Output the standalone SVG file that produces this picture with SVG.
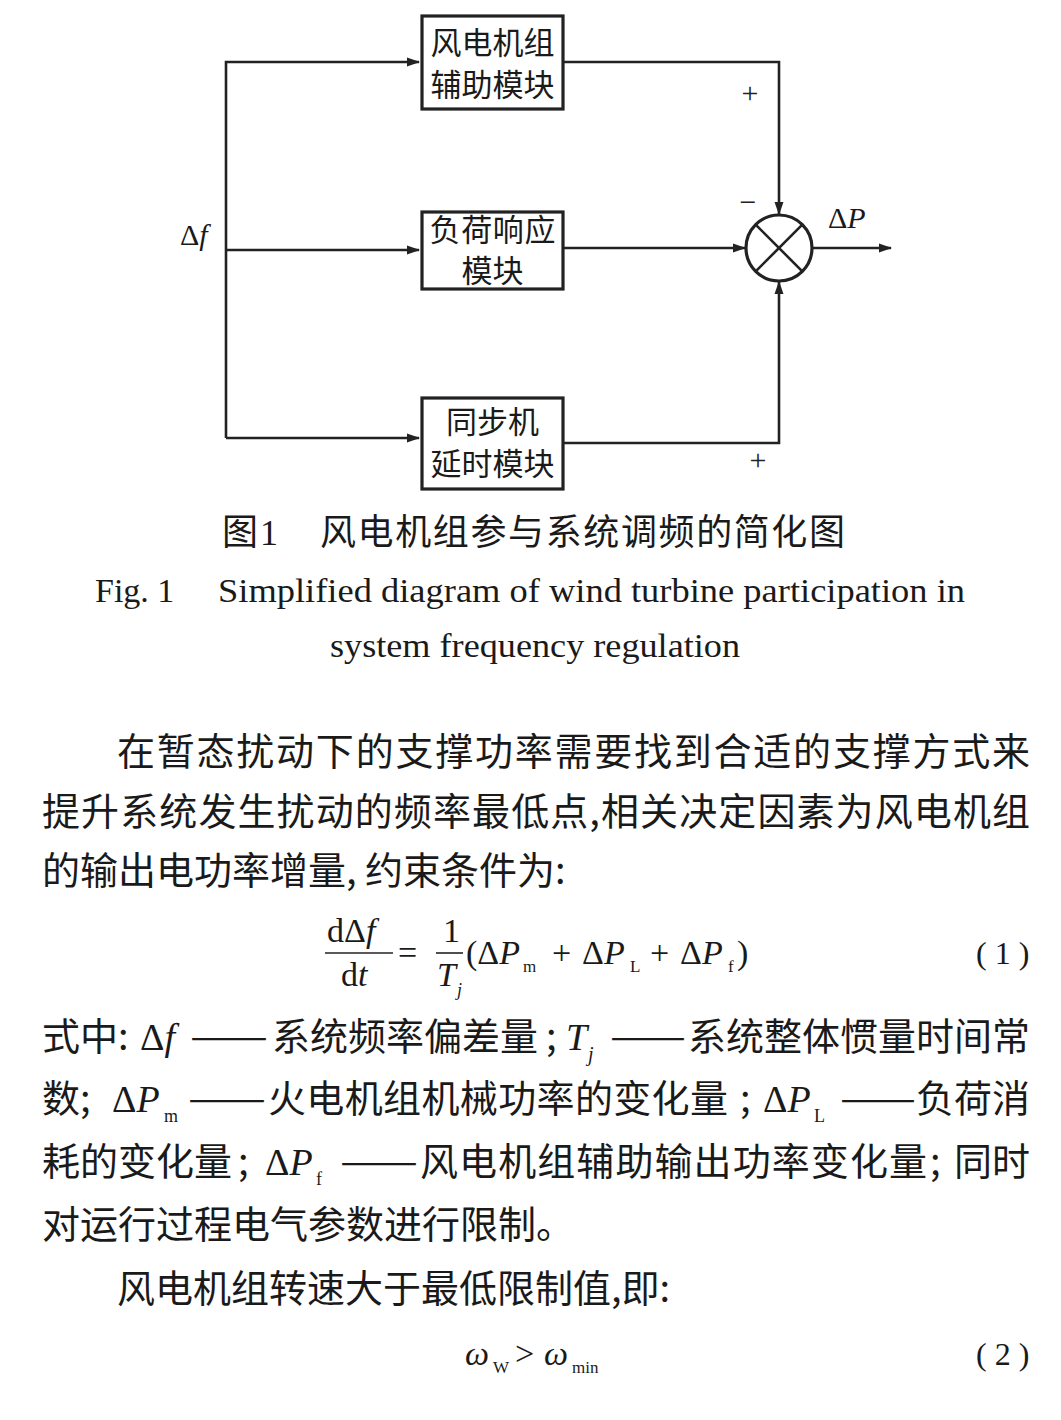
<svg xmlns="http://www.w3.org/2000/svg" width="1061" height="1420" viewBox="0 0 1061 1420">
<defs>
<marker id="arr" markerWidth="13" markerHeight="10" refX="12" refY="5" orient="auto" markerUnits="userSpaceOnUse">
<path d="M0,0.5 L13,5 L0,9.5 z" fill="#222"/>
</marker>
<style>
.box{fill:#fff;stroke:#222;stroke-width:3.2}
.ln{fill:none;stroke:#222;stroke-width:2.6}
.cjk{font-family:"Noto Sans CJK SC",sans-serif;fill:#1a1a1a}
.ser{font-family:"Liberation Serif",serif;fill:#1a1a1a}
.it{font-style:italic}
.bl{font-size:31px;text-anchor:middle}
.body{font-size:38px}
.sg{font-family:"Liberation Serif",serif;font-size:30px;fill:#222;text-anchor:middle}
</style>
</defs>
<rect width="1061" height="1420" fill="#fff"/>

<g id="connectors">
<path class="ln" d="M226,438 L226,62 L419,62" marker-end="url(#arr)"/>
<path class="ln" d="M226,250 L419,250" marker-end="url(#arr)"/>
<path class="ln" d="M226,438 L419,438" marker-end="url(#arr)"/>
<path class="ln" d="M563,62 L779,62 L779,214" marker-end="url(#arr)"/>
<path class="ln" d="M563,248 L745,248" marker-end="url(#arr)"/>
<path class="ln" d="M563,443 L779,443 L779,282" marker-end="url(#arr)"/>
<path class="ln" d="M812,248 L891,248" marker-end="url(#arr)"/>
</g>

<g id="node-wind">
<rect class="box" x="422" y="16" width="141" height="93"/>
<text class="cjk bl"><tspan x="492.5" y="54">风电机组</tspan><tspan x="492.5" y="96">辅助模块</tspan></text>
</g>
<g id="node-load">
<rect class="box" x="422" y="212" width="141" height="77"/>
<text class="cjk bl" x="492.5" y="241" font-size="28" textLength="126" lengthAdjust="spacing">负荷响应</text>
<text class="cjk bl" x="492.5" y="282" font-size="28">模块</text>
</g>
<g id="node-sync">
<rect class="box" x="422" y="398" width="141" height="91"/>
<text class="cjk bl"><tspan x="492.5" y="433">同步机</tspan><tspan x="492.5" y="475">延时模块</tspan></text>
</g>
<g id="node-sum">
<circle cx="779" cy="248" r="33" fill="#fff" stroke="#222" stroke-width="3.2"/>
<path class="ln" d="M755.7,224.7 L802.3,271.3 M802.3,224.7 L755.7,271.3"/>
</g>

<g id="labels">
<text class="ser" x="180" y="245" font-size="30">Δ<tspan class="it">f</tspan></text>
<text class="ser" x="828" y="228" font-size="30">Δ<tspan class="it">P</tspan></text>
<text class="sg" x="750" y="103">+</text>
<text class="sg" x="748" y="212">−</text>
<text class="sg" x="758" y="470">+</text>
</g>

<g id="caption">
<text class="cjk" x="222" y="545" font-size="36">图</text>
<text class="ser" x="260" y="545" font-size="36">1</text>
<text class="cjk" x="320" y="545" font-size="36" textLength="525" lengthAdjust="spacing">风电机组参与系统调频的简化图</text>
<text class="ser" x="95" y="602" font-size="34">Fig. 1</text>
<text class="ser" x="218" y="602" font-size="34" textLength="747" lengthAdjust="spacingAndGlyphs">Simplified diagram of wind turbine participation in</text>
<text class="ser" x="330" y="657" font-size="34" textLength="410" lengthAdjust="spacingAndGlyphs">system frequency regulation</text>
</g>

<g id="body">
<text class="cjk body" x="117" y="765" textLength="913" lengthAdjust="spacing">在暂态扰动下的支撑功率需要找到合适的支撑方式来</text>
<text class="cjk body" x="42" y="825" textLength="988" lengthAdjust="spacing">提升系统发生扰动的频率最低点,相关决定因素为风电机组</text>
<text class="cjk body" x="42" y="884">的输出电功率增量, 约束条件为:</text>

<g id="eq1" class="ser" font-size="34">
<text x="327" y="942">dΔ<tspan class="it">f</tspan></text>
<line x1="325" y1="953" x2="393" y2="953" stroke="#222" stroke-width="1.6"/>
<text x="341" y="986">d<tspan class="it">t</tspan></text>
<text x="398" y="964">=</text>
<text x="443" y="942">1</text>
<line x1="436" y1="953" x2="463" y2="953" stroke="#222" stroke-width="1.6"/>
<text class="it" x="437" y="986">T</text>
<text class="it" x="457" y="996" font-size="18">j</text>
<text x="466" y="964">(Δ<tspan class="it">P</tspan></text>
<text x="523" y="972" font-size="17">m</text>
<text x="552" y="964">+</text>
<text x="582" y="964">Δ<tspan class="it">P</tspan></text>
<text x="630" y="972" font-size="17">L</text>
<text x="650" y="964">+</text>
<text x="680" y="964">Δ<tspan class="it">P</tspan></text>
<text x="728" y="972" font-size="17">f</text>
<text x="737" y="964">)</text>
<text x="976" y="964" font-size="32" letter-spacing="8">(1)</text>
</g>

<text class="cjk body" x="42" y="1050">式中:</text>
<text class="ser" x="140" y="1050" font-size="38">Δ<tspan class="it">f</tspan></text>
<text class="cjk body" x="190" y="1050" textLength="78" lengthAdjust="spacingAndGlyphs">——</text>
<text class="cjk body" x="272" y="1050" textLength="266" lengthAdjust="spacing">系统频率偏差量</text>
<text class="cjk body" x="546" y="1050">;</text>
<text class="ser it" x="566" y="1050" font-size="38">T</text>
<text class="ser it" x="588" y="1061" font-size="20">j</text>
<text class="cjk body" x="610" y="1050" textLength="76" lengthAdjust="spacingAndGlyphs">——</text>
<text class="cjk body" x="688" y="1050" textLength="342" lengthAdjust="spacing">系统整体惯量时间常</text>

<text class="cjk body" x="42" y="1112">数;</text>
<text class="ser" x="112" y="1112" font-size="38">Δ<tspan class="it">P</tspan></text>
<text class="ser" x="164" y="1122" font-size="18">m</text>
<text class="cjk body" x="188" y="1112" textLength="78" lengthAdjust="spacingAndGlyphs">——</text>
<text class="cjk body" x="268" y="1112" textLength="460" lengthAdjust="spacing">火电机组机械功率的变化量</text>
<text class="cjk body" x="740" y="1112">;</text>
<text class="ser" x="763" y="1112" font-size="38">Δ<tspan class="it">P</tspan></text>
<text class="ser" x="814" y="1122" font-size="18">L</text>
<text class="cjk body" x="840" y="1112" textLength="76" lengthAdjust="spacingAndGlyphs">——</text>
<text class="cjk body" x="916" y="1112" textLength="114" lengthAdjust="spacing">负荷消</text>

<text class="cjk body" x="42" y="1175" textLength="190" lengthAdjust="spacing">耗的变化量</text>
<text class="cjk body" x="238" y="1175">;</text>
<text class="ser" x="265" y="1175" font-size="38">Δ<tspan class="it">P</tspan></text>
<text class="ser" x="316" y="1185" font-size="18">f</text>
<text class="cjk body" x="340" y="1175" textLength="78" lengthAdjust="spacingAndGlyphs">——</text>
<text class="cjk body" x="420" y="1175" textLength="507" lengthAdjust="spacing">风电机组辅助输出功率变化量</text>
<text class="cjk body" x="930" y="1175">;</text>
<text class="cjk body" x="954" y="1175" textLength="76" lengthAdjust="spacing">同时</text>

<text class="cjk body" x="42" y="1238">对运行过程电气参数进行限制。</text>
<text class="cjk body" x="117" y="1302">风电机组转速大于最低限制值,即:</text>

<g id="eq2" class="ser" font-size="34">
<text class="it" x="465" y="1365">ω</text>
<text x="493" y="1373" font-size="17">W</text>
<text x="515" y="1365">&gt;</text>
<text class="it" x="544" y="1365">ω</text>
<text x="572" y="1373" font-size="17">min</text>
<text x="976" y="1365" font-size="32" letter-spacing="8">(2)</text>
</g>
</g>
</svg>
